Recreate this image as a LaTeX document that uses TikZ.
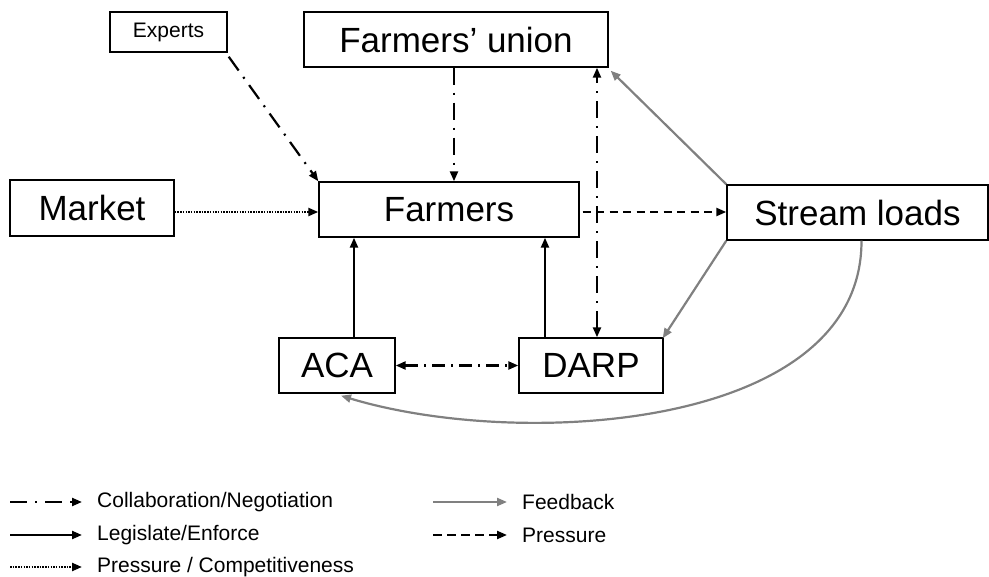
\documentclass[tikz,border=0pt]{standalone}
\usepackage{fontspec}
\setmainfont{Liberation Sans}
\usetikzlibrary{arrows.meta,calc}

\tikzset{
  box/.style={draw, line width=1.4pt, minimum height=55pt, inner sep=0pt},
  bigtext/.style={font=\fontsize{35}{40}\selectfont},
  smalltext/.style={font=\fontsize{21}{25}\selectfont},
  tip/.style={-{Triangle[length=10pt,width=8pt]}},
  twotip/.style={{Triangle[length=10pt,width=8pt]}-{Triangle[length=10pt,width=8pt]}},
  collab/.style={black, line width=2.2pt, dash pattern=on 17pt off 8pt on 2pt off 8pt},
  legislate/.style={black, line width=2.2pt},
  pressure/.style={black, line width=2.2pt, dash pattern=on 8pt off 5.5pt},
  compet/.style={black, line width=2.2pt, dash pattern=on 1.5pt off 1.2pt},
  feedback/.style={gray, line width=2.2pt},
}

\begin{document}
\begin{tikzpicture}[x=1pt, y=-1pt]
  \useasboundingbox (0,0) rectangle (989,577);

  % actors
  \node[box, smalltext, minimum width=117pt, minimum height=40pt] (experts) at (168.5,32) {Experts};
  \node[box, bigtext, minimum width=304pt] (union) at (456,39.5) {Farmers’ union};
  \node[box, bigtext, minimum width=164pt, minimum height=56pt] (market) at (92,208) {Market};
  \node[box, bigtext, minimum width=260pt] (farmers) at (449,209.5) {Farmers};
  \node[box, bigtext, minimum width=261pt] (stream) at (857.5,212.5) {Stream loads};
  \node[box, bigtext, minimum width=116pt] (aca) at (337,365.5) {ACA};
  \node[box, bigtext, minimum width=144pt] (darp) at (591,365.5) {DARP};

  % collaboration / negotiation
  \draw[collab, tip] ([shift={(1,4)}]experts.south east) -- (farmers.north west);
  \draw[collab, tip] ([xshift=-2pt]union.south) -- ([xshift=-2pt]union.south |- farmers.north);
  \draw[collab, twotip] ([xshift=6pt]darp.north) -- ([xshift=6pt]darp.north |- union.south);
  \draw[collab, twotip, dash pattern=on 13pt off 6pt on 2pt off 6pt] (aca.east) -- (darp.west);

  % legislate / enforce
  \draw[legislate, tip] ([xshift=17pt]aca.north) -- ([xshift=17pt]aca.north |- farmers.south);
  \draw[legislate, tip] ([xshift=-46pt]darp.north) -- ([xshift=-46pt]darp.north |- farmers.south);

  % pressure
  \draw[compet, tip] ([yshift=-4pt]market.east) -- ([yshift=-4pt]market.east -| farmers.west);
  \draw[pressure, tip] ([xshift=3pt,yshift=-2.5pt]farmers.east) -- ([yshift=-2.5pt]farmers.east -| stream.west);

  % feedback from stream loads
  \draw[feedback, tip] (stream.north west) -- ([shift={(2,3)}]union.south east);
  \draw[feedback, tip] (stream.south west) -- ([shift={(-1,1)}]darp.north east);
  \draw[feedback, tip] ([xshift=4pt]stream.south)
    .. controls (862,430) and (520,450) .. ([shift={(4,2)}]aca.south);

  % legend
  \coordinate (l1a) at (10,502);  \coordinate (l1b) at (82,502);
  \coordinate (l2a) at (10,535);  \coordinate (l2b) at (82,535);
  \coordinate (l3a) at (10,567);  \coordinate (l3b) at (82,567);
  \coordinate (r1a) at (433,502); \coordinate (r1b) at (507,502);
  \coordinate (r2a) at (433,535); \coordinate (r2b) at (507,535);

  \draw[collab, tip] (l1a) -- (l1b);
  \draw[legislate, tip] (l2a) -- (l2b);
  \draw[compet, tip] (l3a) -- (l3b);
  \draw[feedback, tip] (r1a) -- (r1b);
  \draw[pressure, dash pattern=on 9pt off 5pt, tip] (r2a) -- (r2b);

  \node[smalltext, anchor=west, inner sep=0pt] (t1) at (97,502) {Collaboration/Negotiation};
  \node[smalltext, anchor=west, inner sep=0pt] (t2) at (97,535) {Legislate/Enforce};
  \node[smalltext, anchor=west, inner sep=0pt] (t3) at (97,567) {Pressure / Competitiveness};
  \node[smalltext, anchor=west, inner sep=0pt] (t4) at (522,502) {Feedback};
  \node[smalltext, anchor=west, inner sep=0pt] (t5) at (522,535) {Pressure};
\end{tikzpicture}
\end{document}
